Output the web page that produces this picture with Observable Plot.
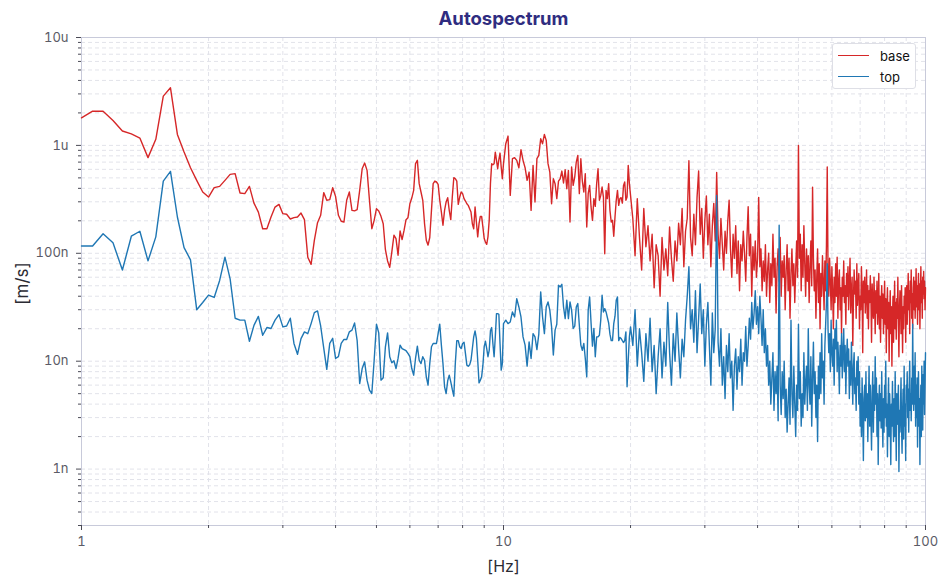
<!DOCTYPE html>
<html>
<head>
<meta charset="utf-8">
<script src="https://cdn.jsdelivr.net/npm/d3@7"></script>
<script src="https://cdn.jsdelivr.net/npm/@observablehq/plot@0.6"></script>
<style>
  body { margin: 0; background: white; font-family: Inter, "Noto Sans", sans-serif; }
  #wrap { position: relative; width: 949px; height: 587px; }
  .legend { position: absolute; left: 832px; top: 43px; width: 84px; height: 46px;
            background: white; border: 1px solid #dedfe6; border-radius: 3px; box-sizing: border-box; }
  .legend .item { position: absolute; left: 5px; height: 14px; font-size: 13px; color: #111; line-height: 14px; }
  .legend .sw { position: absolute; left: 0; top: 6px; width: 31px; height: 0; border-top: 1.5px solid; }
  .legend .lab { position: absolute; left: 42px; top: 0; white-space: nowrap; }
</style>
</head>
<body>
<div id="wrap">
  <div id="chart"></div>
  <div class="legend" id="legend"></div>
</div>
<script>
// frequency grid (FFT bins): every bin to 10 Hz, every 2nd to 20 Hz, every 4th to 100 Hz
const freq = [
  ...d3.range(16, 161).map(k => k / 16),
  ...d3.range(81, 161).map(k => k / 8),
  ...d3.range(81, 401).map(k => k / 4)
]

// amplitudes in n(m/s)
const baseNano = [
  // 1 .. 3.8125 Hz
  1800, 2080, 2070, 1700, 1360, 1280, 1170, 770, 1140, 2860, 3420, 1265, 867, 621, 474, 370,
  332, 406, 417, 474, 539, 547, 362, 357, 417, 292, 241, 169, 169, 217, 268, 284,
  233, 230, 208, 214, 217, 236, 205, 92, 79, 132, 192, 225, 365, 310,
  // 3.875 .. 10 Hz
  314, 405, 337, 225, 198, 195, 310, 370, 250, 247, 254, 383, 608, 686, 587, 310,
  169, 202, 259, 247, 220, 188, 108, 85, 74, 103, 147, 137, 96, 161, 134, 163, 205, 214, 288,
  325, 383, 677, 727, 442, 370, 310, 188, 132, 119, 140, 250, 442, 467, 458, 435,
  310, 241, 182, 250, 299, 328, 250, 205, 332, 502, 491, 467, 284, 332, 370, 357,
  321, 305, 288, 278, 259, 241, 188, 169, 269, 195, 142, 188, 220, 220, 175, 137,
  127, 121, 142, 202, 442, 677, 662, 677, 867, 727, 608, 737, 849, 630, 491, 677,
  // 10.125 .. 20 Hz
  1036, 1220, 344, 753, 769, 727, 621, 912, 727, 621, 474, 566, 250, 653, 299, 753,
  808, 1153, 1036, 1265, 1112, 677, 566, 288, 491, 442, 321, 467, 491, 578, 448, 595,
  397, 587, 195, 630, 426, 509, 701, 808, 357, 753, 467, 370, 547, 175, 357, 426,
  269, 202, 321, 272, 442, 608, 310, 344, 411, 332, 99, 383, 321, 442, 250, 195,
  202, 144, 217, 310, 383, 278, 321, 328, 292, 426, 458, 310, 332, 653, 442, 344,
  // 20.25 .. 100 Hz
  210, 95, 320, 140, 70, 260, 115, 180, 85, 150, 48, 120, 95, 40, 140, 70,
  110, 62, 175, 90, 55, 130, 85, 190, 120, 260, 75, 160, 210, 720, 140, 95,
  230, 120, 330, 580, 150, 260, 90, 200, 340, 120, 230, 75, 180, 290, 130, 560,
  150, 90, 210, 120, 70, 160, 100, 200, 310, 110, 60, 150, 90, 180, 65, 130,
  45, 120, 85, 160, 100, 55, 140, 270, 95, 150, 40, 115, 70, 130, 60, 90,
  330, 75, 110, 45, 85, 55, 120, 40, 70, 100, 35, 80, 50, 150, 60, 90,
  28, 75, 110, 55, 140, 40, 85, 60, 95, 30, 70, 120, 45, 90, 25, 65,
  110, 50, 80, 35, 70, 130, 60, 1000, 90, 150, 45, 120, 60, 180, 80, 40,
  110, 55, 95, 35, 75, 130, 50, 410, 90, 45, 70, 25, 60, 110, 35, 80,
  20, 65, 40, 95, 55, 30, 85, 45, 120, 630, 70, 40, 90, 55, 30, 75,
  45, 20, 60, 35, 80, 40, 92, 25, 55, 70, 30, 48, 18, 60, 40, 85,
  35, 50, 22, 65, 40, 75, 30, 55, 90, 28, 45, 60, 14, 38, 70, 42,
  55, 25, 80, 33, 48, 65, 20, 40, 30, 75, 45, 12, 55, 35, 60, 28,
  42, 70, 25, 50, 20, 45, 35, 62, 38, 15, 52, 30, 25, 60, 35, 18,
  45, 28, 55, 22, 32, 65, 20, 40, 15, 35, 50, 25, 42, 18, 30, 55,
  22, 38, 12, 30, 48, 20, 35, 10, 28, 45, 18, 32, 9, 25, 40, 15,
  30, 55, 20, 35, 16, 38, 25, 60, 22, 11, 30, 45, 35, 18, 50, 26,
  12, 32, 20, 40, 28, 48, 15, 35, 50, 22, 38, 65, 30, 45, 18, 55,
  35, 70, 25, 42, 20, 48, 60, 30, 55, 25, 40, 72, 32, 50, 22, 45,
  65, 30, 52, 20, 40, 75, 35, 55, 25, 60, 42, 68, 38, 55, 30, 48
]

const topNano = [
  // 1 .. 3.8125 Hz
  117, 117, 152, 125, 70, 144, 160, 85, 142, 467, 574, 217, 113, 87, 30, 35,
  41, 39, 56, 92, 58, 25, 24, 24, 15.3, 21.5, 26, 17.4, 20.5, 20.1, 24, 27,
  20.8, 21.2, 25, 14.6, 11.6, 16.2, 18.7, 18, 22.3, 28.2, 29.2, 21.2, 13.2, 8.4,
  // 3.875 .. 10 Hz
  14.6, 16.3, 10.6, 11.0, 14.6, 15.9, 15.9, 18.7, 19.4, 22.6, 15.5, 6.21, 8.55, 9.86, 6.67, 5.39,
  5.02, 10.2, 22.0, 18.3, 6.67, 7.01, 13.6, 18.3, 11.0, 9.65, 10.1, 8.55, 10.6, 14.1, 13.1, 12.8, 12.5, 11.8, 11.0,
  8.55, 7.42, 10.6, 13.8, 10.2, 9.5, 11.0, 10.2, 7.16, 6.0, 9.5, 13.6, 14.6, 14.6, 14.6, 18.0,
  22.0, 14.1, 9.5, 5.79, 5.02, 6.58, 7.42, 6.44, 5.47, 4.74, 9.5, 15.5, 15.5, 13.6, 13.1, 14.6,
  15.0, 11.8, 9.18, 8.99, 9.25, 10.2, 13.1, 16.8, 19.1, 16.2, 10.2, 6.30, 6.67, 7.16, 9.18, 13.6,
  15.3, 13.1, 11.0, 12.6, 19.1, 20.5, 14.6, 11.0, 16.8, 27.6, 27.6, 27.2, 14.6, 8.26, 9.5, 22.3,
  // 10.125 .. 20 Hz
  24.0, 22.3, 23.1, 28.6, 25.7, 38.0, 31.8, 25.7, 16.8, 14.1, 8.99, 15.1, 10.6, 18.0, 16.8, 12.8,
  17.8, 43.9, 25.7, 18.0, 31.8, 35.4, 29.7, 20.8, 11.4, 19.4, 22.0, 50.6, 48.8, 51.6, 31.8, 24.8,
  36.7, 24.8, 35.4, 29.7, 20.1, 21.1, 31.8, 34.2, 21.5, 14.1, 12.6, 14.6, 10.6, 7.16, 29.7, 39.4,
  22.6, 13.8, 20.1, 11.0, 16.8, 16.8, 17.4, 24.0, 40.8, 28.6, 30.7, 28.6, 25.4, 22.6, 17.8, 15.5,
  15.5, 22.3, 26.1, 36.7, 39.4, 15.5, 16.6, 16.2, 15.5, 14.9, 15.5, 18.7, 5.79, 10.2, 16.8, 20.8,
  // 20.25 .. 100 Hz
  14, 30, 9, 20, 12, 6.5, 18, 10, 25, 8, 14, 5, 11, 20, 7, 15,
  9, 35, 12, 6, 18, 10, 28, 13, 7, 16, 11, 24, 40, 75, 20, 30,
  15, 45, 12, 25, 52, 18, 30, 9, 22, 35, 14, 6, 28, 12, 20, 344,
  15, 9, 20, 6, 11, 4.5, 14, 8, 18, 7, 10, 3.5, 9, 13, 5.5, 11,
  8, 16, 6, 12, 10, 21, 9, 14, 25, 16, 35, 20, 28, 45, 22, 32,
  18, 40, 25, 14, 30, 12, 20, 9, 14, 6, 10, 4, 7, 12, 3.5, 8,
  5, 9, 2.8, 182, 6, 3.2, 8, 4.5, 10, 3, 5.5, 2.2, 4, 7, 2.6, 24,
  5, 3, 9, 4, 2, 6, 3.5, 22, 4.5, 8, 2.5, 5, 3, 12, 4, 6.5,
  9, 3.5, 20, 6, 4, 11, 2.5, 7, 15, 5, 8, 3, 6, 1.8, 9, 4.5,
  12, 5, 18, 7, 10, 4, 14, 22, 35, 80, 20, 12, 18, 8, 24, 12,
  9, 16, 6, 20, 13, 24, 8, 15, 10, 5, 14, 9, 18, 7, 12, 20,
  8, 14, 5, 11, 16, 9, 13, 4.5, 10, 6, 15, 8, 4, 9, 12, 5,
  7, 3.5, 10, 6, 11, 4, 8, 2.5, 5, 2, 7, 3.5, 1.2, 4.5, 6, 2.8,
  8, 3, 5, 1.8, 4, 9, 2.5, 6, 3, 1.5, 5, 8, 2.2, 6, 3.5, 11,
  4, 7, 2, 5, 1.1, 3.5, 6, 2.8, 5, 2.4, 8, 3, 1.6, 4.5, 2.2, 6,
  3, 10, 2.5, 4, 1.3, 3.8, 7, 2, 5, 2.7, 1.1, 4, 2.5, 6.5, 3, 1.8,
  4.5, 2, 8, 3.2, 1.2, 5, 2.6, 4, 6, 0.95, 3.5, 2.2, 4, 7, 2.4, 1.4,
  3.3, 5.5, 1.9, 9, 2.5, 4, 1.2, 6, 4.5, 8, 3, 5.5, 2.2, 6, 10, 3.5,
  5, 2.8, 7, 4, 22, 6, 3.5, 9, 4, 12, 2.5, 6, 3, 7, 1.6, 5,
  8, 2.5, 4.5, 1.1, 3.5, 6, 2, 9, 5, 2.3, 7.5, 4, 10, 3.2, 6, 12
]

const seriesNames = ["base", "top"]
const seriesColors = ["#d62728", "#1f77b4"]

const xTicks = [1, 10, 100]
const xTickLabels = ["1", "10", "100"]
const yTicks = [1e-9, 1e-8, 1e-7, 1e-6, 1e-5]
const yTickLabels = ["1n", "10n", "100n", "1u", "10u"]

// minor ticks of the log axes
const xMinor = []
for (const d of [1, 10]) for (let m = 2; m <= 9; m++) xMinor.push(m * d)
const yMinor = []
for (let m = 3; m <= 9; m++) yMinor.push(m * 1e-10)
for (const d of [1e-9, 1e-8, 1e-7, 1e-6]) for (let m = 2; m <= 9; m++) yMinor.push(m * d)

const rows = []
freq.forEach((f, i) => {
  rows.push({ f, v: baseNano[i] * 1e-9, serie: "base" })
  rows.push({ f, v: topNano[i] * 1e-9, serie: "top" })
})

const gridStyle = { stroke: "#e2e3ea", strokeOpacity: 1, strokeDasharray: "4,3" }
const tickColor = "#4a4a55"

let chart = Plot.plot({
  width: 949,
  height: 587,
  marginLeft: 81,
  marginRight: 24,
  marginTop: 37,
  marginBottom: 62,
  style: { fontFamily: "Inter, 'Noto Sans', sans-serif", fontSize: "13px", background: "white", overflow: "visible" },
  x: { type: "log", domain: [1, 100] },
  y: { type: "log", domain: [3e-10, 1e-5] },
  color: { domain: seriesNames, range: seriesColors },
  marks: [
    Plot.gridX(xMinor.concat(xTicks), gridStyle),
    Plot.gridY(yMinor.concat(yTicks), gridStyle),
    Plot.frame({ stroke: "#c8cada" }),
    Plot.line(rows.filter(d => d.serie === "base"), { x: "f", y: "v", stroke: seriesColors[0], strokeWidth: 1.4 }),
    Plot.line(rows.filter(d => d.serie === "top"), { x: "f", y: "v", stroke: seriesColors[1], strokeWidth: 1.4 }),
    Plot.axisY(yTicks, { tickSize: 5, tickPadding: 8, stroke: tickColor, fill: "#5b5b66", label: null,
      tickFormat: d => yTickLabels[yTicks.indexOf(d)] }),
    Plot.axisY(yMinor, { tickSize: 3, stroke: tickColor, label: null, tickFormat: () => "" }),
    Plot.axisX(xTicks, { tickSize: 5, tickPadding: 6, stroke: tickColor, fill: "#5b5b66", label: null,
      tickFormat: d => xTickLabels[xTicks.indexOf(d)] }),
    Plot.axisX(xMinor, { tickSize: 3, stroke: tickColor, label: null, tickFormat: () => "" }),
    Plot.text(["Autospectrum"], { frameAnchor: "top", dy: -18, lineAnchor: "middle",
      fontSize: 18.5, fontWeight: "bold", fill: "#2f2c80" }),
    Plot.text(["[Hz]"], { frameAnchor: "bottom", dy: 41, lineAnchor: "middle", fontSize: 16, fill: "#2b2b33" }),
    Plot.text(["[m/s]"], { frameAnchor: "left", dx: -59, dy: 2, rotate: -90, textAnchor: "middle",
      lineAnchor: "middle", fontSize: 17, fill: "#2b2b33" })
  ]
})

d3.select("#chart").append(() => chart)

// legend
const legend = d3.select("#legend")
seriesNames.forEach((name, i) => {
  const item = legend.append("div").attr("class", "item").style("top", (5 + i * 21) + "px")
  item.append("div").attr("class", "sw").style("border-color", seriesColors[i])
  item.append("div").attr("class", "lab").text(name)
})
</script>
</body>
</html>
